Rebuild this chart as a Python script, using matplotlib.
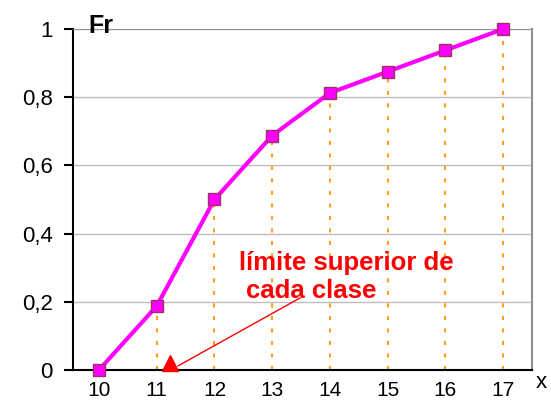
import matplotlib
matplotlib.use("Agg")
import matplotlib.pyplot as plt

# cumulative relative frequency (Fr) per class upper limit
x_vals = [10, 11, 12, 13, 14, 15, 16, 17]
fr_vals = [0, 3/16, 8/16, 11/16, 13/16, 14/16, 15/16, 1]
y_ticks = [0, 0.2, 0.4, 0.6, 0.8, 1]
y_labels = ["0", "0,2", "0,4", "0,6", "0,8", "1"]

plt.rcParams['font.family'] = ['Liberation Sans', 'DejaVu Sans']

fig = plt.figure(figsize=(5.51, 4.03), dpi=100)
ax = fig.add_axes([0.1325, 0.082, 0.833, 0.846])

for y in y_ticks[1:]:
    ax.axhline(y, color='#bdbdbd', lw=1, zorder=1)

# dotted drop lines
ax.vlines(x_vals[1:], 0, fr_vals[1:], colors='#ffa020', linestyles=(0, (2, 4)), lw=1.5, zorder=2)

ax.plot(x_vals, fr_vals, color='#ff00ff', lw=3, marker='s', ms=8,
        mfc='#ff00ff', mec='#993366', mew=1, zorder=3, clip_on=False)

ax.set_xlim(9.55, 17.5)
ax.set_ylim(0, 1)
ax.set_yticks(y_ticks)
ax.set_yticklabels(y_labels)
ax.set_xticks(x_vals)
ax.tick_params(axis='y', direction='out', length=6.5, width=1.5, labelsize=16, pad=8)
ax.tick_params(axis='x', length=0, labelsize=15, pad=8)

ax.spines['left'].set_color('black')
ax.spines['left'].set_linewidth(1.5)
ax.spines['bottom'].set_color('black')
ax.spines['bottom'].set_linewidth(1.5)
ax.spines['top'].set_color('#909090')
ax.spines['right'].set_color('#909090')
ax.spines['right'].set_linewidth(1.5)

ax.text(0.033, 1.009, "Fr", transform=ax.transAxes, fontsize=18, fontweight='bold',
        va='center', ha='left')
fig.text(0.982, 0.052, "x", fontsize=16, ha='center', va='center')

# annotation
ax.plot([11.23], [0.02], marker='^', color='red', ms=11, clip_on=False, zorder=4)
ax.plot([11.37, 13.48], [0.012, 0.211], color='red', lw=1, zorder=4)
ax.text(14.28, 0.293, "límite superior de", color='red', fontsize=18.5, fontweight='bold',
        ha='center', va='baseline')
ax.text(13.67, 0.211, "cada clase", color='red', fontsize=18.5, fontweight='bold',
        ha='center', va='baseline')

fig.savefig("out.png", dpi=100)
